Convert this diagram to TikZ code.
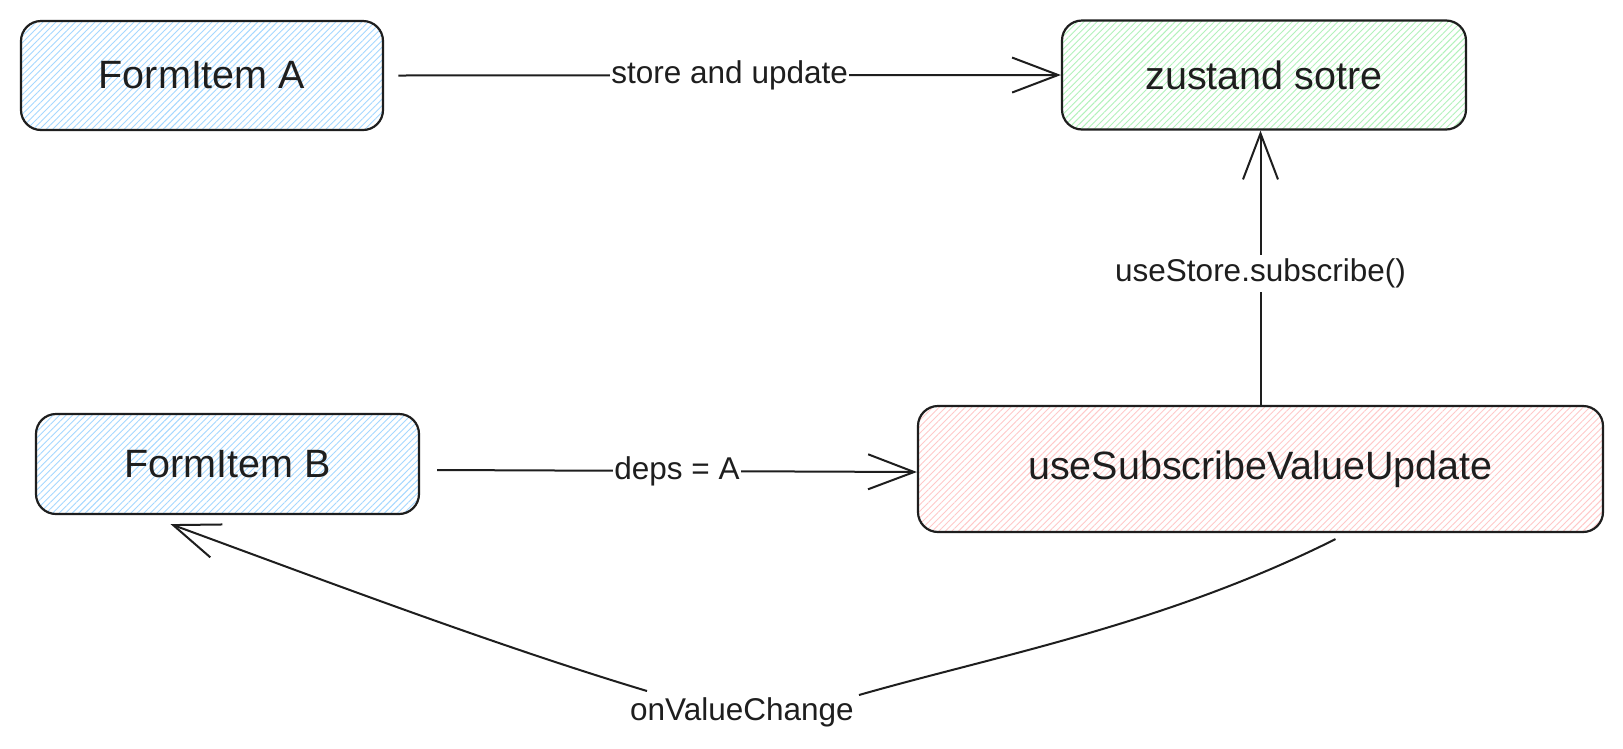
\documentclass[tikz,border=0pt]{standalone}
\usepackage{fontspec}
\setmainfont{Liberation Sans}
\usetikzlibrary{arrows.meta,patterns.meta,calc}
\definecolor{ink}{HTML}{1E1E1E}
\definecolor{hblue}{HTML}{A5D8FF}
\definecolor{hgreen}{HTML}{B2F2BB}
\definecolor{hred}{HTML}{FFC9C9}
\begin{document}
\begin{tikzpicture}[x=1pt,y=-1pt,
  box/.style={draw=ink, line width=2.2pt, rounded corners=20pt, inner sep=0pt,
    font=\fontsize{39.5}{47}\selectfont, text=ink},
  hatchblue/.style={pattern={Lines[angle=45,distance=4.6pt,line width=0.9pt]}, pattern color=hblue},
  hatchgreen/.style={pattern={Lines[angle=45,distance=4.6pt,line width=0.9pt]}, pattern color=hgreen},
  hatchred/.style={pattern={Lines[angle=45,distance=4.6pt,line width=0.9pt]}, pattern color=hred},
  lbl/.style={fill=white, inner xsep=1pt, inner ysep=4pt, font=\fontsize{31.5}{38}\selectfont, text=ink},
  conn/.style={draw=ink, line width=2pt},
  tip/.style={-{Straight Barb[length=46pt,width=35pt]}}]
\fill[white] (0,0) rectangle (1623,748);
\useasboundingbox (0,0) rectangle (1623,748);

\node[box, hatchblue, minimum width=362pt, minimum height=109pt] (A) at (202,75.5) {FormItem A};
\node[box, hatchgreen, minimum width=404pt, minimum height=109pt] (Z) at (1264,75) {zustand sotre};
\node[box, hatchblue, minimum width=383pt, minimum height=100pt] (B) at (227.5,464) {FormItem B};
\node[box, hatchred, minimum width=685pt, minimum height=126pt] (R) at (1260.5,469) {useSubscribeValueUpdate};

\draw[conn, tip] ([xshift=15pt]A.east) -- node[lbl] {store and update} (Z.west);
\draw[conn, tip] ([shift={(17pt,-6pt)}]B.east) -- node[lbl] {deps = A} ([yshift=-3pt]R.west);
\draw[conn, tip] (R.north) -- node[lbl, pos=0.48] {useStore.subscribe()} (R.north |- Z.south);

\node[lbl, fill=none] (V) at (742,712) {onValueChange};
\coordinate (s4) at ([shift={(75pt,-6pt)}]R.south);
\coordinate (vr) at ([shift={(117pt,17pt)}]V.center);
\coordinate (vl) at ([shift={(-95pt,21pt)}]V.center);
\coordinate (e4) at ([shift={(-57pt,-9pt)}]B.south);
\draw[conn, tip] (s4) .. controls +(-170pt,-85pt) and +(140pt,40pt) .. (vr)
  (vl) .. controls +(-150pt,45pt) and +(150pt,-55pt) .. (e4);
\end{tikzpicture}
\end{document}
